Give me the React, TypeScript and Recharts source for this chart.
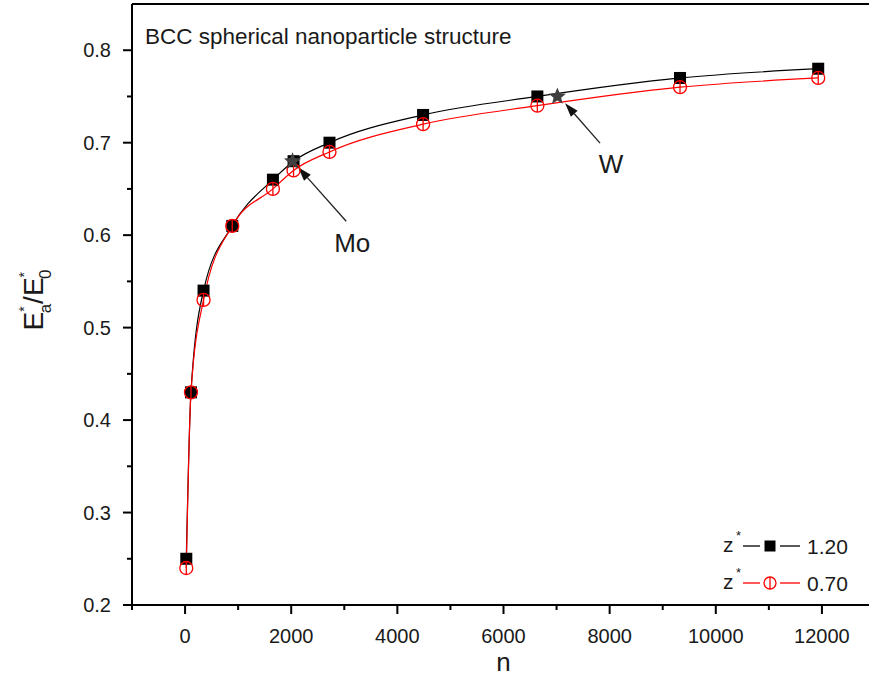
import React from "react";
import {
  ComposedChart,
  Line,
  XAxis,
  YAxis,
  ReferenceLine,
  Label,
} from "recharts";

// cluster size n and reduced energy ratio for two z* values
const nValues = [23, 111, 348, 889, 1655, 2044, 2721, 4485, 6638, 9326, 11930];
const ratioZ120 = [0.25, 0.43, 0.54, 0.61, 0.66, 0.68, 0.7, 0.73, 0.75, 0.77, 0.78];
const ratioZ070 = [0.24, 0.43, 0.53, 0.61, 0.65, 0.67, 0.69, 0.72, 0.74, 0.76, 0.77];

// experimental metals (stars)
const metalNames = ["Mo", "W"];
const metalN = [2025, 7015];
const metalRatio = [0.68, 0.75];

// arrows: tail -> tip, in data units
const arrowTailN = [3036, 7819];
const arrowTailV = [0.615, 0.6995];
const arrowTipN = [2130, 7160];
const arrowTipV = [0.6735, 0.7427];

const xTicks = [-1000, 0, 1000, 2000, 3000, 4000, 5000, 6000, 7000, 8000, 9000, 10000, 11000, 12000];
const yTicks = [0.2, 0.25, 0.3, 0.35, 0.4, 0.45, 0.5, 0.55, 0.6, 0.65, 0.7, 0.75, 0.8];

const legendLabels = ["1.20", "0.70"];

const data = nValues.map((n, i) => ({ n, z120: ratioZ120[i], z070: ratioZ070[i] }));
const metals = metalNames.map((name, i) => ({ name, n: metalN[i], v: metalRatio[i] }));

const FONT = "Arial, 'Liberation Sans', sans-serif";
const TEXT = "#1a1a1a";
const labelOffsets = [
  { dx: 6, dy: 31 },
  { dx: 11, dy: 30 },
];

const XTick = (props: any) => {
  const { x, y, payload } = props;
  const major = payload.value % 2000 === 0;
  return (
    <g>
      <line x1={x} x2={x} y1={y} y2={y + (major ? 9 : 5)} stroke="#000" strokeWidth={2} />
      {major && (
        <text x={x} y={y + 38} textAnchor="middle" fontSize={20} fontFamily={FONT} fill={TEXT}>
          {payload.value}
        </text>
      )}
    </g>
  );
};

const YTick = (props: any) => {
  const { x, y, payload } = props;
  const v = payload.value;
  const major = Math.abs(Math.round(v * 10) - v * 10) < 1e-6;
  return (
    <g>
      <line x1={x} x2={x - (major ? 9 : 5)} y1={y} y2={y} stroke="#000" strokeWidth={2} />
      {major && (
        <text x={x - 21} y={y + 7} textAnchor="end" fontSize={20} fontFamily={FONT} fill={TEXT}>
          {v.toFixed(1)}
        </text>
      )}
    </g>
  );
};

const SquareDot = (p: any) => (
  <rect key={`s${p.index}`} x={p.cx - 6} y={p.cy - 6} width={12} height={12} fill="#000" />
);

const CircleDot = (p: any) => (
  <g key={`c${p.index}`}>
    <circle cx={p.cx} cy={p.cy} r={6.5} fill="none" stroke="#ff0000" strokeWidth={1.3} />
    <line x1={p.cx} x2={p.cx} y1={p.cy - 6.5} y2={p.cy + 6.5} stroke="#ff0000" strokeWidth={1.3} />
  </g>
);

const starPoints = (cx: number, cy: number, R: number, r: number) => {
  const pts: string[] = [];
  for (let k = 0; k < 10; k++) {
    const rad = k % 2 === 0 ? R : r;
    const a = -Math.PI / 2 + (k * Math.PI) / 5;
    pts.push(`${cx + rad * Math.cos(a)},${cy + rad * Math.sin(a)}`);
  }
  return pts.join(" ");
};

const StarDot = (p: any) => (
  <polygon key={`m${p.index}`} points={starPoints(p.cx, p.cy, 9, 4)} fill="#404040" />
);

const makeArrow = (i: number) => (props: any) => {
  const { x1, y1, x2, y2 } = props;
  const ang = Math.atan2(y2 - y1, x2 - x1);
  const len = 14;
  const hw = 4.5;
  const bx = x2 - len * Math.cos(ang);
  const by = y2 - len * Math.sin(ang);
  const px = -Math.sin(ang) * hw;
  const py = Math.cos(ang) * hw;
  return (
    <g>
      <line x1={x1} y1={y1} x2={bx} y2={by} stroke="#222" strokeWidth={1.3} />
      <polygon points={`${x2},${y2} ${bx + px},${by + py} ${bx - px},${by - py}`} fill="#111" />
      <text
        x={x1 + labelOffsets[i].dx}
        y={y1 + labelOffsets[i].dy}
        textAnchor="middle"
        fontSize={26}
        fontFamily={FONT}
        fill={TEXT}
      >
        {metalNames[i]}
      </text>
    </g>
  );
};

const YTitle = () => (
  <text
    transform="translate(43,300) rotate(-90)"
    textAnchor="middle"
    fontSize={28}
    fontFamily={FONT}
    fill={TEXT}
  >
    <tspan>E</tspan>
    <tspan dy={-14} fontSize={14}>*</tspan>
    <tspan dx={-7} dy={22} fontSize={17}>a</tspan>
    <tspan dy={-8}>/E</tspan>
    <tspan dy={-14} fontSize={14}>*</tspan>
    <tspan dx={-7} dy={22} fontSize={17}>0</tspan>
  </text>
);

const LegendRow = ({ y, color, i }: { y: number; color: string; i: number }) => (
  <g>
    <text x={723} y={y + 6} fontSize={21} fontFamily={FONT} fill={TEXT}>z</text>
    <text x={736} y={y - 6} fontSize={13} fontFamily={FONT} fill={TEXT}>*</text>
    <line x1={743} x2={760} y1={y} y2={y} stroke={color} strokeWidth={1.3} />
    {i === 0 ? (
      <rect x={764.5} y={y - 5.5} width={11} height={11} fill="#000" />
    ) : (
      <g>
        <circle cx={770} cy={y} r={6} fill="none" stroke={color} strokeWidth={1.3} />
        <line x1={770} x2={770} y1={y - 6} y2={y + 6} stroke={color} strokeWidth={1.3} />
      </g>
    )}
    <line x1={780} x2={800} y1={y} y2={y} stroke={color} strokeWidth={1.3} />
    <text x={807} y={y + 8} fontSize={21} fontFamily={FONT} fill={TEXT}>
      {legendLabels[i]}
    </text>
  </g>
);

export default function App() {
  return (
    <div
      style={{
        position: "absolute",
        left: 0,
        top: 0,
        width: 869,
        height: 683,
        overflow: "hidden",
        background: "#fff",
      }}
    >
      <ComposedChart
        width={880}
        height={683}
        data={data}
        margin={{ top: 4, right: 5, bottom: 0, left: 0 }}
      >
        <XAxis
          dataKey="n"
          type="number"
          domain={[-1000, 13000]}
          ticks={xTicks}
          interval={0}
          tick={<XTick />}
          tickLine={false}
          tickSize={0}
          tickMargin={0}
          axisLine={{ stroke: "#000", strokeWidth: 2 }}
          height={78}
        >
          <Label
            value="n"
            position="insideBottom"
            offset={12}
            fontSize={26}
            fontFamily={FONT}
            fill={TEXT}
          />
        </XAxis>
        <YAxis
          type="number"
          domain={[0.2, 0.85]}
          ticks={yTicks}
          interval={0}
          tick={<YTick />}
          tickLine={false}
          tickSize={0}
          tickMargin={0}
          axisLine={{ stroke: "#000", strokeWidth: 2 }}
          width={132}
        >
          <Label content={<YTitle />} />
        </YAxis>
        <ReferenceLine y={0.85} stroke="#000" strokeWidth={2} />
        <ReferenceLine x={13000} stroke="#000" strokeWidth={2} />
        <Line
          type="monotone"
          dataKey="z120"
          stroke="#000"
          strokeWidth={1.2}
          dot={SquareDot}
          activeDot={false}
          isAnimationActive={false}
        />
        <Line
          type="monotone"
          dataKey="z070"
          stroke="#ff0000"
          strokeWidth={1.2}
          dot={CircleDot}
          activeDot={false}
          isAnimationActive={false}
        />
        <Line
          data={metals}
          dataKey="v"
          stroke="none"
          dot={StarDot}
          activeDot={false}
          isAnimationActive={false}
        />
        {metalNames.map((name, i) => (
          <ReferenceLine
            key={name}
            segment={[
              { x: arrowTailN[i], y: arrowTailV[i] },
              { x: arrowTipN[i], y: arrowTipV[i] },
            ]}
            shape={makeArrow(i)}
          />
        ))}
        <text x={145} y={44} fontSize={22.5} fontFamily={FONT} fill={TEXT}>
          BCC spherical nanoparticle structure
        </text>
        <LegendRow y={546} color="#000" i={0} />
        <LegendRow y={583} color="#ff0000" i={1} />
      </ComposedChart>
    </div>
  );
}
